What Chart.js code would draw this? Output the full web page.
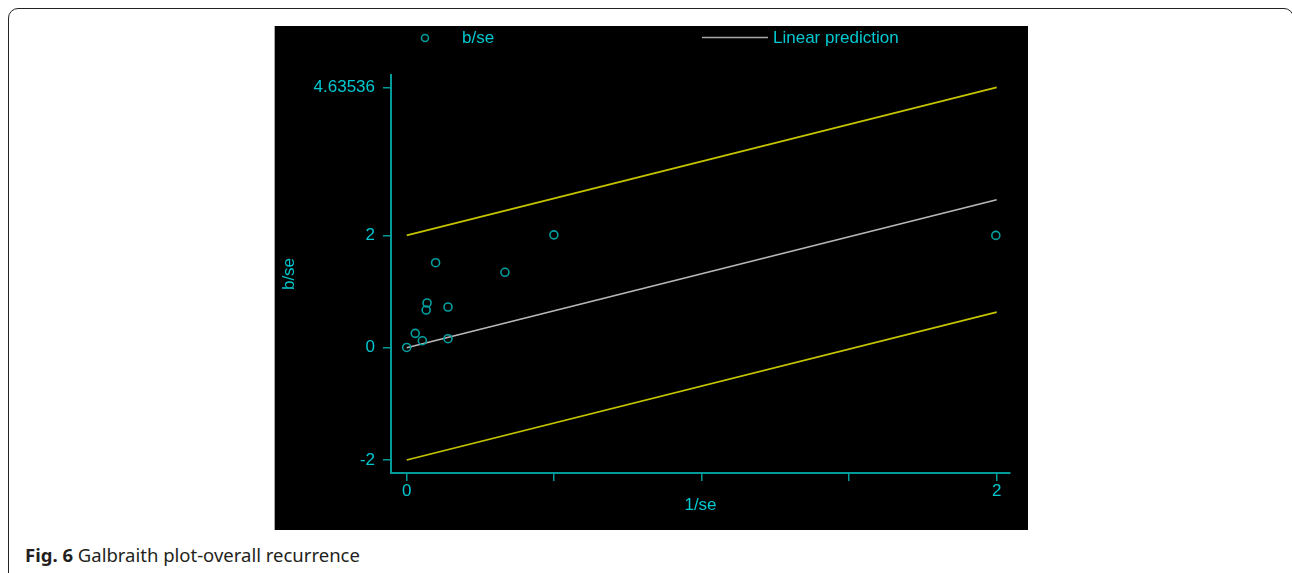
<!DOCTYPE html>
<html>
<head>
<meta charset="utf-8">
<script src="https://cdn.jsdelivr.net/npm/chart.js@4"></script>
<style>
  body { margin: 0; background: #fff; width: 1292px; height: 573px; overflow: hidden; position: relative; }
  #frame { position: absolute; left: 8px; top: 8px; width: 1286px; height: 620px; border: 1.5px solid #222; border-radius: 10px; box-sizing: border-box; }
  #panel { position: absolute; left: 274px; top: 26px; width: 754px; height: 504px; background: #000; border-left: 1px solid #aaa; box-sizing: border-box; }
  #panel canvas { position: absolute; left: -1px; top: 0; }
  #caption { position: absolute; left: 25px; top: 543px; font: 18.5px "Noto Sans", sans-serif; line-height: 24px; color: #231f20; white-space: nowrap; }
  #caption b { font-weight: bold; }
</style>
</head>
<body>
<div id="frame"></div>
<div id="panel"><canvas id="galbraith" width="754" height="504"></canvas></div>
<div id="caption"><b>Fig. 6</b> Galbraith plot-overall recurrence</div>
<script>
// study points: precision (1/se) and standardised effect (b/se)
const precision = [0, 0.029, 0.053, 0.069, 0.066, 0.098, 0.14, 0.14, 0.333, 0.499, 1.997];
const zScores = [0.005, 0.256, 0.125, 0.796, 0.671, 1.514, 0.725, 0.16, 1.343, 2.01, 2.0];

// regression line through the origin and the +/-2 band
const lineX = [0, 2];
const predY = [0, 2.63536];
const upperY = [2, 4.63536];
const lowerY = [-2, 0.63536];

const xTicks = [0, 0.5, 1, 1.5, 2];
const xTickLabels = ['0', '', '', '', '2'];
const yTicks = [-2, 0, 2, 4.63536];
const yTickLabels = ['-2', '0', '2', '4.63536'];

const axisColor = '#009a9a';
const textColor = '#00c8d0';
const font = { family: 'Liberation Sans, Arial, sans-serif', size: 17 };

const pts = (xs, ys) => xs.map((x, i) => ({ x, y: ys[i] }));

const legendPlugin = {
  id: 'stataLegend',
  afterDraw(chart) {
    const ctx = chart.ctx;
    ctx.save();
    ctx.font = '17px Liberation Sans, Arial, sans-serif';
    ctx.textBaseline = 'middle';
    ctx.fillStyle = textColor;
    ctx.strokeStyle = '#00a0a0';
    ctx.lineWidth = 1.5;
    ctx.beginPath();
    ctx.arc(151, 12, 3.5, 0, Math.PI * 2);
    ctx.stroke();
    ctx.fillText('b/se', 188, 12);
    ctx.strokeStyle = '#a8a8a8';
    ctx.lineWidth = 1.5;
    ctx.beginPath();
    ctx.moveTo(428, 11.5);
    ctx.lineTo(494, 11.5);
    ctx.stroke();
    ctx.fillText('Linear prediction', 499, 12);
    ctx.restore();
  }
};

new Chart(document.getElementById('galbraith'), {
  type: 'scatter',
  data: {
    datasets: [
      {
        label: 'b/se',
        data: pts(precision, zScores),
        pointStyle: 'circle',
        pointRadius: 4,
        borderColor: '#00a0a0',
        backgroundColor: 'rgba(0,0,0,0)',
        borderWidth: 1.6,
        order: 0
      },
      {
        label: 'Linear prediction',
        data: pts(lineX, predY),
        showLine: true,
        borderColor: '#b8b8b8',
        borderWidth: 1.7,
        pointRadius: 0
      },
      {
        label: 'upper',
        data: pts(lineX, upperY),
        showLine: true,
        borderColor: '#c4c400',
        borderWidth: 1.8,
        pointRadius: 0
      },
      {
        label: 'lower',
        data: pts(lineX, lowerY),
        showLine: true,
        borderColor: '#c4c400',
        borderWidth: 1.8,
        pointRadius: 0
      }
    ]
  },
  options: {
    responsive: false,
    animation: false,
    devicePixelRatio: 1,
    layout: { padding: { top: 49, right: 18, left: 0, bottom: 0 } },
    plugins: {
      legend: { display: false },
      tooltip: { enabled: false }
    },
    scales: {
      x: {
        type: 'linear',
        min: -0.0532,
        max: 2.0451,
        afterBuildTicks: axis => { axis.ticks = xTicks.map(value => ({ value })); },
        afterFit: scale => { scale.height = 57; },
        ticks: {
          color: textColor,
          font,
          padding: 0,
          maxRotation: 0,
          autoSkip: false,
          callback: (v, i) => xTickLabels[i]
        },
        grid: { drawOnChartArea: false, color: axisColor, lineWidth: 1.5, tickLength: 8 },
        border: { color: axisColor, width: 2 },
        title: { display: true, text: '1/se', color: textColor, font, padding: { top: 0, bottom: 14 } }
      },
      y: {
        type: 'linear',
        min: -2.2315,
        max: 4.857,
        afterBuildTicks: axis => { axis.ticks = yTicks.map(value => ({ value })); },
        afterFit: scale => { scale.width = 117; },
        ticks: {
          color: textColor,
          font,
          padding: 8,
          autoSkip: false,
          callback: (v, i) => yTickLabels[i]
        },
        grid: { drawOnChartArea: false, color: axisColor, lineWidth: 1.5, tickLength: 8 },
        border: { color: axisColor, width: 2 },
        title: { display: true, text: 'b/se', color: textColor, font, padding: { top: 5, bottom: 0 } }
      }
    }
  },
  plugins: [legendPlugin]
});
</script>
</body>
</html>
